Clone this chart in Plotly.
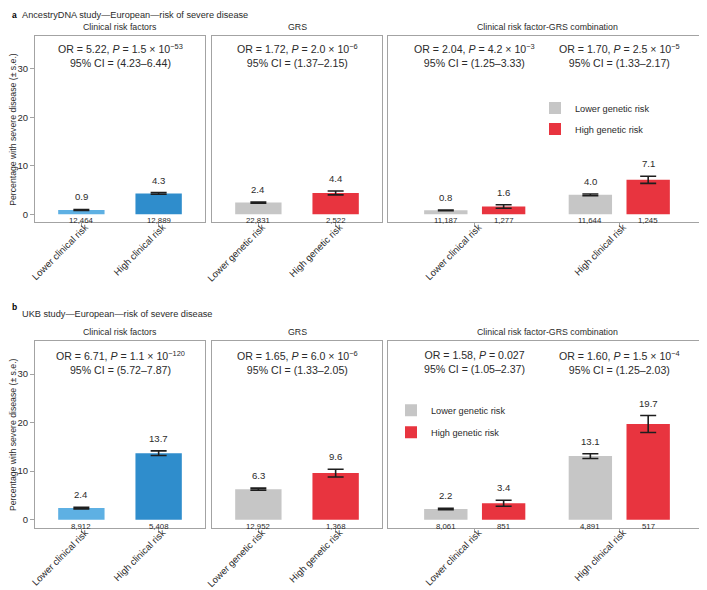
import plotly.graph_objects as go

FONT = "Liberation Sans, Arial, Helvetica, sans-serif"
# The page body keeps an 8 px margin, so the figure is drawn 8 px smaller and
# all placements below are given in window pixels and shifted by that margin.
PAGE_MARGIN = 8
W, H = 707 - PAGE_MARGIN, 590 - PAGE_MARGIN

# ---------------- data ----------------
clinical_cats = ["Lower clinical risk", "High clinical risk"]
genetic_cats = ["Lower genetic risk", "High genetic risk"]
legend_names = ["Lower genetic risk", "High genetic risk"]
panel_titles = ["Clinical risk factors", "GRS", "Clinical risk factor-GRS combination"]
study_titles = ["AncestryDNA study\u2014European\u2014risk of severe disease",
                "UKB study\u2014European\u2014risk of severe disease"]
panel_letters = ["a", "b"]

# a: AncestryDNA
a_clin_pct = [0.9, 4.3]
a_clin_se = [0.09, 0.18]
a_clin_n = ["12,464", "12,889"]
a_grs_pct = [2.4, 4.4]
a_grs_se = [0.10, 0.41]
a_grs_n = ["22,831", "2,522"]
a_combo_low_pct = [0.8, 4.0]
a_combo_low_se = [0.08, 0.18]
a_combo_low_n = ["11,187", "11,644"]
a_combo_high_pct = [1.6, 7.1]
a_combo_high_se = [0.35, 0.73]
a_combo_high_n = ["1,277", "1,245"]
a_stats = [
    ["OR = 5.22, <i>P</i> = 1.5 \u00d7 10<sup>\u221253</sup><br>95% CI = (4.23\u20136.44)"],
    ["OR = 1.72, <i>P</i> = 2.0 \u00d7 10<sup>\u22126</sup><br>95% CI = (1.37\u20132.15)"],
    ["OR = 2.04, <i>P</i> = 4.2 \u00d7 10<sup>\u22123</sup><br>95% CI = (1.25\u20133.33)",
     "OR = 1.70, <i>P</i> = 2.5 \u00d7 10<sup>\u22125</sup><br>95% CI = (1.33\u20132.17)"],
]

# b: UKB
b_clin_pct = [2.4, 13.7]
b_clin_se = [0.16, 0.47]
b_clin_n = ["8,912", "5,408"]
b_grs_pct = [6.3, 9.6]
b_grs_se = [0.21, 0.80]
b_grs_n = ["12,952", "1,368"]
b_combo_low_pct = [2.2, 13.1]
b_combo_low_se = [0.16, 0.48]
b_combo_low_n = ["8,061", "4,891"]
b_combo_high_pct = [3.4, 19.7]
b_combo_high_se = [0.62, 1.75]
b_combo_high_n = ["851", "517"]
b_stats = [
    ["OR = 6.71, <i>P</i> = 1.1 \u00d7 10<sup>\u2212120</sup><br>95% CI = (5.72\u20137.87)"],
    ["OR = 1.65, <i>P</i> = 6.0 \u00d7 10<sup>\u22126</sup><br>95% CI = (1.33\u20132.05)"],
    ["OR = 1.58, <i>P</i> = 0.027<br>95% CI = (1.05\u20132.37)",
     "OR = 1.60, <i>P</i> = 1.5 \u00d7 10<sup>\u22124</sup><br>95% CI = (1.25\u20132.03)"],
]

y_ticks = [0, 10, 20, 30]
y_title = "Percentage with severe disease (\u00b1 s.e.)"

# ---------------- style ----------------
LIGHT_BLUE = "#5eb0e3"
DARK_BLUE = "#2f8dcc"
GREY = "#c6c6c6"
RED = "#e8343f"
BOX = "#a3a3a3"
TXT = "#2b2b2b"
ERR = "#1e1e1e"

col_px = [(35, 205), (212, 382), (388, 706)]
row_px = [(36, 222), (341, 527.5)]
Y_RANGE = [-1.6, 36.8]
X_RANGE = [-0.6, 1.6]


def fx(px):
    return (px - PAGE_MARGIN) / W


def fy(py):
    return 1 - (py - PAGE_MARGIN) / H


fig = go.Figure()
annotations = []


def axid(k, letter):
    return letter if k == 1 else f"{letter}{k}"


def ann(**kw):
    base = dict(showarrow=False, font=dict(family=FONT, size=10, color=TXT))
    base.update(kw)
    annotations.append(base)


rows = [
    dict(clin=(a_clin_pct, a_clin_se, a_clin_n), grs=(a_grs_pct, a_grs_se, a_grs_n),
         low=(a_combo_low_pct, a_combo_low_se, a_combo_low_n),
         high=(a_combo_high_pct, a_combo_high_se, a_combo_high_n), stats=a_stats),
    dict(clin=(b_clin_pct, b_clin_se, b_clin_n), grs=(b_grs_pct, b_grs_se, b_grs_n),
         low=(b_combo_low_pct, b_combo_low_se, b_combo_low_n),
         high=(b_combo_high_pct, b_combo_high_se, b_combo_high_n), stats=b_stats),
]

title_y = [15, 314]
letter_y = [15, 307]

layout_axes = {}
for r, rd in enumerate(rows):
    y0, y1 = row_px[r]
    for c in range(3):
        k = r * 3 + c + 1
        xa, ya = axid(k, "x"), axid(k, "y")
        x0, x1 = col_px[c]
        layout_axes["xaxis" if k == 1 else f"xaxis{k}"] = dict(
            domain=[fx(x0), min(fx(x1), 1.0)], anchor=ya, type="category", range=X_RANGE,
            automargin=False,
            showline=True, mirror=True, linecolor=BOX, linewidth=1,
            ticks="outside", ticklen=4, tickcolor=BOX, tickangle=-45,
            ticklabelstandoff=-9, ticklabelshift=4,
            tickfont=dict(family=FONT, size=9.5, color=TXT), showgrid=False,
            zeroline=False, fixedrange=True)
        layout_axes["yaxis" if k == 1 else f"yaxis{k}"] = dict(
            domain=[fy(y1), fy(y0)], anchor=xa, range=Y_RANGE,
            automargin=False,
            showline=True, mirror=True, linecolor=BOX, linewidth=1,
            tickvals=y_ticks, ticks="outside" if c == 0 else "", ticklen=4, tickcolor=BOX,
            showticklabels=(c == 0), tickfont=dict(family=FONT, size=9.5, color=TXT),
            showgrid=False, zeroline=False, fixedrange=True)

        def bar_with_labels(cats, vals, se, ns, colors, shift, name=None, width=0.6,
                            offset=None, legend=None):
            fig.add_trace(go.Bar(
                x=cats, y=vals, xaxis=xa, yaxis=ya, width=width, offset=offset,
                marker=dict(color=colors, line=dict(width=0)),
                error_y=dict(type="data", array=se, color=ERR, thickness=1.6, width=8),
                name=name, showlegend=legend is not None, legend=legend,
                legendgroup=name if legend else None, hoverinfo="skip"))
            for i, (v, s, n) in enumerate(zip(vals, se, ns)):
                ann(xref=xa, yref=ya, x=i + shift, y=v + s, text=f"{v:.1f}",
                    yanchor="bottom", yshift=5, font=dict(family=FONT, size=9.6, color=TXT))
                ann(xref=xa, yref=ya, x=i + shift, y=0, text=n, yanchor="top", yshift=0,
                    font=dict(family=FONT, size=7.8, color=TXT))

        if c == 0:
            v, s, n = rd["clin"]
            bar_with_labels(clinical_cats, v, s, n, [LIGHT_BLUE, DARK_BLUE], 0)
        elif c == 1:
            v, s, n = rd["grs"]
            bar_with_labels(genetic_cats, v, s, n, [GREY, RED], 0)
        else:
            leg = "legend" if r == 0 else "legend2"
            v, s, n = rd["low"]
            bar_with_labels(clinical_cats, v, s, n, GREY, -0.2, name=legend_names[0],
                            width=0.3, offset=-0.35, legend=leg)
            v, s, n = rd["high"]
            bar_with_labels(clinical_cats, v, s, n, RED, 0.2, name=legend_names[1],
                            width=0.3, offset=0.05, legend=leg)

        # panel title
        ann(xref=f"{xa} domain", yref=f"{ya} domain", x=0.5, y=1, text=panel_titles[c],
            yanchor="bottom", yshift=2, font=dict(family=FONT, size=8.8, color=TXT))
        # statistics
        stats = rd["stats"][c]
        sshift = -4 if r == 0 else -6
        if len(stats) == 1:
            ann(xref=f"{xa} domain", yref=f"{ya} domain", x=0.5, y=1, text=stats[0],
                yanchor="top", yshift=sshift, font=dict(family=FONT, size=10.6, color=TXT))
        else:
            for i, t in enumerate(stats):
                ann(xref=xa, yref=f"{ya} domain", x=i, y=1, text=t,
                    yanchor="top", yshift=sshift, font=dict(family=FONT, size=10.6, color=TXT))

    # study title + letter
    ann(xref="paper", yref="paper", x=fx(10), y=fy(letter_y[r]), text=f"<b>{panel_letters[r]}</b>",
        xanchor="left", yanchor="middle", font=dict(family=FONT, size=8.5, color="#000"))
    ann(xref="paper", yref="paper", x=fx(20), y=fy(title_y[r]), text=study_titles[r],
        xanchor="left", yanchor="middle", font=dict(family=FONT, size=9.2, color=TXT))
    # y-axis title
    ann(xref="paper", yref="paper", x=fx(12.8), y=fy((y0 + y1) / 2), text=y_title,
        textangle=-90, xanchor="center", yanchor="middle",
        font=dict(family=FONT, size=8.7, color=TXT))

legend_common = dict(xanchor="left", yanchor="top", bgcolor="rgba(0,0,0,0)", borderwidth=0,
                     font=dict(family=FONT, size=9.2, color=TXT),
                     itemclick=False, itemdoubleclick=False)

fig.update_layout(
    width=W, height=H, margin=dict(l=0, r=0, t=0, b=0, autoexpand=False),
    paper_bgcolor="white", plot_bgcolor="white",
    barmode="overlay", showlegend=True,
    annotations=annotations,
    legend=dict(x=fx(535), y=fy(93.5), tracegroupgap=2, **legend_common),
    legend2=dict(x=fx(391), y=fy(395.7), tracegroupgap=3, **legend_common),
    font=dict(family=FONT, color=TXT),
    **layout_axes,
)

fig.write_html("out.html")
